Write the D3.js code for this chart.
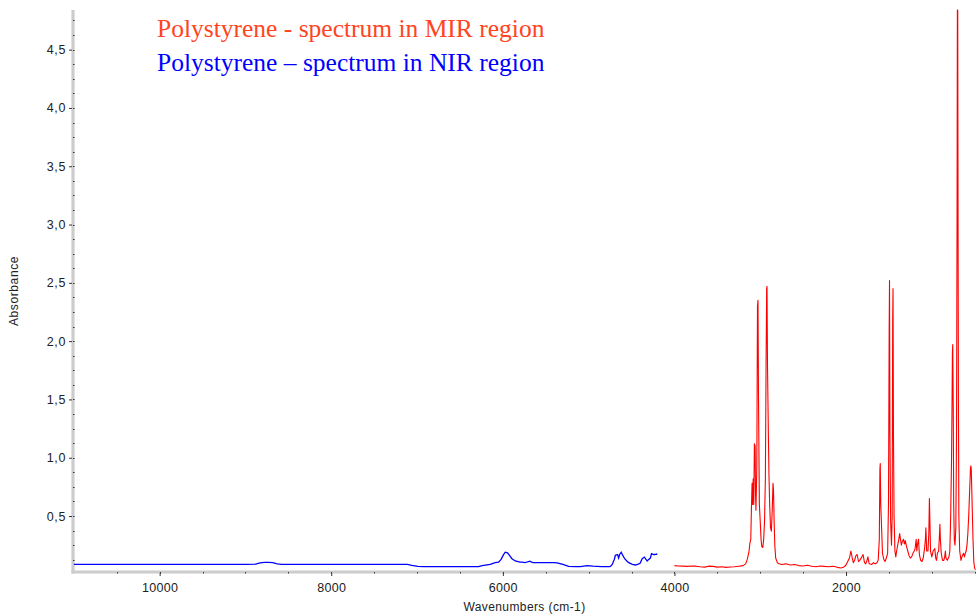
<!DOCTYPE html>
<html>
<head>
<meta charset="utf-8">
<script src="https://cdn.jsdelivr.net/npm/d3@7/dist/d3.min.js"></script>
<style>
  html, body { margin: 0; padding: 0; background: #fff; }
  svg { display: block; }
</style>
</head>
<body>
<svg id="chart" width="976" height="614"></svg>
<script>
// ---------- data ----------
const legendLabels = ["Polystyrene - spectrum in MIR region", "Polystyrene \u2013 spectrum in NIR region"];
const xTitle = "Wavenumbers (cm-1)";
const yTitle = "Absorbance";
const xMajorTicks = [10000, 8000, 6000, 4000, 2000];
const xMinorTicks = [10500, 10000, 9500, 9000, 8500, 8000, 7500, 7000, 6500, 6000, 5500, 5000, 4500, 4000, 3500, 3000, 2500, 2000, 1500, 1000, 500];
const yMajorTicks = [0.5, 1.0, 1.5, 2.0, 2.5, 3.0, 3.5, 4.0, 4.5];
const yMinorTicks = [0.125, 0.25, 0.375, 0.5, 0.625, 0.75, 0.875, 1.0, 1.125, 1.25, 1.375, 1.5, 1.625, 1.75, 1.875, 2.0, 2.125, 2.25, 2.375, 2.5, 2.625, 2.75, 2.875, 3.0, 3.125, 3.25, 3.375, 3.5, 3.625, 3.75, 3.875, 4.0, 4.125, 4.25, 4.375, 4.5, 4.625, 4.75];

// NIR spectrum (wavenumber, absorbance)
const nirWavenumber = [11000, 10500, 10000, 9500, 9000, 8880, 8830, 8780, 8730, 8680, 8630, 8580, 8300, 8000, 7600, 7300, 7114, 7060, 6990, 6926, 6700, 6500, 6284, 6240, 6147, 6090, 6050, 6020, 5995, 5972, 5945, 5920, 5894, 5855, 5800, 5777, 5740, 5700, 5688, 5650, 5600, 5500, 5400, 5368, 5300, 5233, 5150, 5096, 5019, 4950, 4850, 4760, 4746, 4725, 4700, 4688, 4662, 4650, 4635, 4621, 4600, 4580, 4555, 4532, 4490, 4454, 4430, 4400, 4376, 4350, 4318, 4300, 4280, 4267, 4245, 4225, 4209, 4200];
const nirAbsorbance = [0.086, 0.086, 0.086, 0.086, 0.086, 0.088, 0.098, 0.103, 0.103, 0.1, 0.09, 0.086, 0.086, 0.086, 0.086, 0.086, 0.085, 0.076, 0.068, 0.066, 0.066, 0.066, 0.066, 0.075, 0.085, 0.1, 0.105, 0.128, 0.165, 0.19, 0.185, 0.16, 0.134, 0.115, 0.105, 0.105, 0.1, 0.11, 0.112, 0.1, 0.1, 0.1, 0.1, 0.098, 0.085, 0.068, 0.066, 0.066, 0.075, 0.07, 0.066, 0.066, 0.068, 0.085, 0.13, 0.163, 0.17, 0.14, 0.175, 0.19, 0.16, 0.134, 0.115, 0.1, 0.085, 0.08, 0.085, 0.095, 0.134, 0.148, 0.114, 0.128, 0.14, 0.177, 0.17, 0.17, 0.174, 0.172];

// MIR spectrum (wavenumber, absorbance)
const mirWavenumber = [4000, 3950, 3900, 3850, 3800, 3750, 3700, 3650, 3600, 3550, 3500, 3450, 3400, 3350, 3300, 3250, 3200, 3170, 3150, 3130, 3120, 3110, 3103, 3095, 3090, 3082, 3075, 3068, 3060, 3055, 3050, 3040, 3032, 3026, 3020, 3010, 3001, 2990, 2982, 2970, 2960, 2950, 2940, 2932, 2925, 2921, 2915, 2905, 2898, 2890, 2880, 2870, 2860, 2851, 2845, 2838, 2830, 2820, 2800, 2780, 2750, 2700, 2650, 2600, 2550, 2500, 2450, 2400, 2350, 2300, 2250, 2200, 2150, 2100, 2060, 2030, 2000, 1980, 1960, 1943, 1930, 1915, 1900, 1885, 1870, 1855, 1840, 1815, 1801, 1785, 1770, 1755, 1745, 1730, 1700, 1680, 1660, 1640, 1625, 1612, 1605, 1601, 1595, 1583, 1575, 1560, 1545, 1530, 1515, 1505, 1497, 1493, 1488, 1480, 1470, 1462, 1456, 1452, 1447, 1440, 1430, 1420, 1410, 1400, 1385, 1375, 1365, 1355, 1345, 1330, 1320, 1310, 1295, 1280, 1265, 1250, 1235, 1220, 1205, 1195, 1182, 1175, 1168, 1155, 1145, 1130, 1115, 1100, 1085, 1075, 1069, 1060, 1045, 1035, 1028, 1022, 1015, 1000, 985, 965, 955, 945, 935, 920, 910, 906, 900, 890, 875, 860, 850, 842, 835, 820, 800, 790, 780, 770, 765, 760, 756, 750, 745, 738, 730, 720, 712, 706, 702, 698, 694, 690, 685, 675, 660, 645, 630, 620, 610, 600, 590, 580, 570, 560, 550, 545, 540, 530, 520, 510, 500, 490];
const mirAbsorbance = [0.075, 0.072, 0.07, 0.068, 0.072, 0.07, 0.065, 0.062, 0.07, 0.068, 0.062, 0.065, 0.06, 0.063, 0.065, 0.07, 0.075, 0.09, 0.13, 0.2, 0.27, 0.3, 0.55, 0.78, 0.6, 0.82, 0.6, 1.12, 1.1, 0.7, 0.55, 0.9, 2.3, 2.35, 1.5, 0.6, 0.47, 0.3, 0.24, 0.23, 0.3, 0.45, 0.82, 1.78, 2.45, 2.47, 1.78, 1.2, 0.85, 0.6, 0.4, 0.37, 0.55, 0.78, 0.72, 0.45, 0.25, 0.14, 0.1, 0.09, 0.085, 0.09, 0.08, 0.085, 0.075, 0.072, 0.078, 0.07, 0.065, 0.072, 0.068, 0.065, 0.07, 0.06, 0.055, 0.06, 0.08, 0.11, 0.14, 0.2, 0.15, 0.1, 0.12, 0.16, 0.17, 0.11, 0.12, 0.15, 0.17, 0.1, 0.09, 0.12, 0.15, 0.09, 0.085, 0.1, 0.09, 0.1, 0.12, 0.3, 0.9, 0.95, 0.6, 0.35, 0.18, 0.13, 0.11, 0.14, 0.18, 0.6, 2.1, 2.52, 1.2, 0.45, 0.25, 0.5, 2.2, 2.45, 1.2, 0.5, 0.2, 0.15, 0.2, 0.24, 0.3, 0.35, 0.3, 0.25, 0.28, 0.3, 0.26, 0.29, 0.24, 0.2, 0.16, 0.14, 0.15, 0.18, 0.2, 0.22, 0.3, 0.2, 0.25, 0.3, 0.17, 0.12, 0.11, 0.14, 0.22, 0.3, 0.4, 0.2, 0.2, 0.35, 0.65, 0.45, 0.2, 0.15, 0.2, 0.22, 0.14, 0.12, 0.18, 0.2, 0.35, 0.43, 0.3, 0.18, 0.12, 0.12, 0.15, 0.2, 0.14, 0.12, 0.15, 0.2, 0.5, 1.0, 1.4, 1.9, 1.97, 1.4, 0.6, 0.3, 0.25, 0.4, 1.2, 3.0, 4.84, 4.84, 3.0, 1.5, 0.5, 0.2, 0.12, 0.16, 0.18, 0.15, 0.18, 0.2, 0.25, 0.35, 0.5, 0.7, 0.9, 0.93, 0.9, 0.6, 0.3, 0.1, 0.05, 0.04];

// ---------- chart ----------
const svg = d3.select("#chart");
const plotL = 73, plotR = 976, plotT = 10, plotB = 572;
const x = d3.scaleLinear().domain([11010, 485]).range([plotL, plotR]);
const y = d3.scaleLinear().domain([0.02, 4.84]).range([plotB, plotT]);
const commaFmt = d3.formatLocale({decimal: ",", thousands: "", grouping: [3], currency: ["", ""]}).format(".1f");

svg.append("defs").append("clipPath").attr("id", "plotclip")
  .append("rect").attr("x", plotL).attr("y", plotT - 1).attr("width", plotR - plotL).attr("height", plotB - plotT + 1);

// axis bars
svg.append("line").attr("x1", plotL).attr("x2", plotL).attr("y1", plotT).attr("y2", plotB + 1.5)
  .attr("stroke", "#cccccc").attr("stroke-width", 3.2);
svg.append("line").attr("x1", plotL - 1.6).attr("x2", plotR).attr("y1", plotB).attr("y2", plotB)
  .attr("stroke", "#cccccc").attr("stroke-width", 3.2);

// y minor ticks
svg.append("g").selectAll("line").data(yMinorTicks).join("line")
  .attr("x1", plotL).attr("x2", plotL + 1.5)
  .attr("y1", d => Math.round(y(d)) + 0.5).attr("y2", d => Math.round(y(d)) + 0.5)
  .attr("stroke", "#333").attr("stroke-width", 1);

// y axis (major)
const yAxis = d3.axisLeft(y).tickValues(yMajorTicks).tickFormat(commaFmt).tickSize(3).tickPadding(3);
const gy = svg.append("g").attr("transform", `translate(${plotL - 1},0)`).call(yAxis);
gy.select(".domain").remove();
gy.selectAll(".tick line").attr("stroke", "#333");
gy.selectAll(".tick text").attr("fill", "#222").style("font-family", "Arial, 'Liberation Sans', sans-serif")
  .style("font-size", "12.5px").style("letter-spacing", "0.6px");

// x minor ticks
svg.append("g").selectAll("line").data(xMinorTicks).join("line")
  .attr("x1", d => Math.round(x(d)) + 0.5).attr("x2", d => Math.round(x(d)) + 0.5)
  .attr("y1", plotB).attr("y2", plotB + 1.5)
  .attr("stroke", "#333").attr("stroke-width", 1);

// x axis (major)
const xAxis = d3.axisBottom(x).tickValues(xMajorTicks).tickFormat(d3.format("d")).tickSize(3).tickPadding(7);
const gx = svg.append("g").attr("transform", `translate(0,${plotB + 1})`).call(xAxis);
gx.select(".domain").remove();
gx.selectAll(".tick line").attr("stroke", "#333");
gx.selectAll(".tick text").attr("fill", "#222").style("font-family", "Arial, 'Liberation Sans', sans-serif")
  .style("font-size", "12.5px").style("letter-spacing", "0.3px");

// titles
svg.append("text").attr("x", (plotL + plotR) / 2).attr("y", 611).attr("text-anchor", "middle")
  .style("font-family", "Arial, 'Liberation Sans', sans-serif").style("font-size", "12px").style("letter-spacing", "0.4px")
  .attr("fill", "#222").text(xTitle);
svg.append("text").attr("transform", `translate(18,${(plotT + plotB) / 2}) rotate(-90)`).attr("text-anchor", "middle")
  .style("font-family", "Arial, 'Liberation Sans', sans-serif").style("font-size", "12px").style("letter-spacing", "0.6px")
  .attr("fill", "#222").text(yTitle);

// spectra
const line = d3.line().x(d => x(d[0])).y(d => y(d[1]));
const nir = nirWavenumber.map((w, i) => [w, nirAbsorbance[i]]);
const mir = mirWavenumber.map((w, i) => [w, mirAbsorbance[i]]);
const gp = svg.append("g").attr("clip-path", "url(#plotclip)");
gp.append("path").datum(nir).attr("d", line).attr("fill", "none").attr("stroke", "#0000ff").attr("stroke-width", 1.3);
gp.append("path").datum(mir).attr("d", line).attr("fill", "none").attr("stroke", "#ff0000").attr("stroke-width", 1.1).attr("stroke-linejoin", "round");

// legend texts
const legendColors = ["#ff4422", "#0000ff"];
svg.append("g").selectAll("text").data(legendLabels).join("text")
  .attr("x", 157).attr("y", (d, i) => 37 + i * 34)
  .attr("fill", (d, i) => legendColors[i])
  .style("font-family", "'Times New Roman', 'Liberation Serif', serif").style("font-size", "25.5px")
  .text(d => d);
</script>
</body>
</html>
